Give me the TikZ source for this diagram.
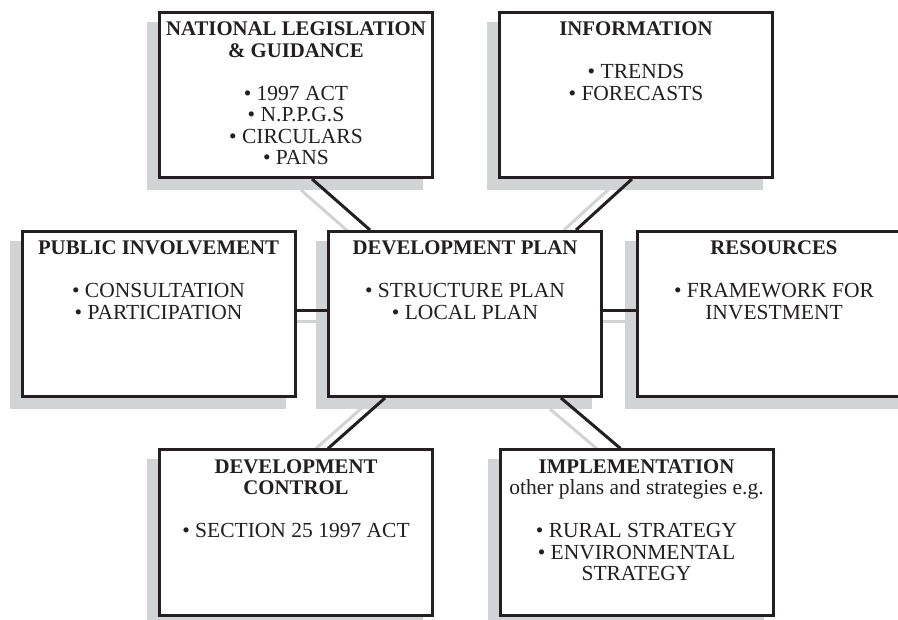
\documentclass[tikz,border=0pt]{standalone}
\usepackage{fontspec}
\setmainfont{Liberation Serif}
\usetikzlibrary{backgrounds}
\definecolor{shadegrey}{RGB}{209,211,212}
\definecolor{inkblack}{RGB}{35,31,32}
\newcommand\boxtitle[1]{{\fontsize{20.8}{21.5}\selectfont\bfseries #1}}

\begin{document}
\begin{tikzpicture}[x=1pt,y=-1pt,
    planbox/.style={draw=inkblack,line width=3pt,fill=white,minimum width=273pt,minimum height=165pt,inner sep=0pt},
    plantext/.style={text width=270pt,align=flush center,anchor=base,inner sep=0pt,text=inkblack,font=\fontsize{21.5}{21.5}\selectfont},
    link/.style={draw=inkblack,line width=3pt},
    linkshade/.style={draw=shadegrey,line width=3pt}]
    \useasboundingbox (0,0) rectangle (898,620);
    % boxes
    \node [planbox] (nlg) at (296,95) {};
    \node [planbox] (info) at (636,95) {};
    \node [planbox] (pub) at (158.5,314) {};
    \node [planbox] (dev) at (465,314) {};
    \node [planbox] (res) at (774,314) {};
    \node [planbox] (ctrl) at (296,532.5) {};
    \node [planbox] (impl) at (636.5,532.5) {};
    % texts
    \node [plantext] (nlgtxt) at ([yshift=-25pt]nlg.north) {\boxtitle{NATIONAL LEGISLATION\\ \& GUIDANCE}\\[21.5pt]
        \textbullet\ 1997 ACT\\ \textbullet\ N.P.P.G.S\\ \textbullet\ CIRCULARS\\ \textbullet\ PANS};
    \node [plantext] (infotxt) at ([yshift=-25pt]info.north) {\boxtitle{INFORMATION}\\[21.5pt]
        \textbullet\ TRENDS\\ \textbullet\ FORECASTS};
    \node [plantext] (pubtxt) at ([yshift=-25pt]pub.north) {\boxtitle{PUBLIC INVOLVEMENT}\\[21.5pt]
        \textbullet\ CONSULTATION\\ \textbullet\ PARTICIPATION};
    \node [plantext] (devtxt) at ([yshift=-25pt]dev.north) {\boxtitle{DEVELOPMENT PLAN}\\[21.5pt]
        \textbullet\ STRUCTURE PLAN\\ \textbullet\ LOCAL PLAN};
    \node [plantext] (restxt) at ([yshift=-25pt]res.north) {\boxtitle{RESOURCES}\\[21.5pt]
        \textbullet\ FRAMEWORK FOR\\ INVESTMENT};
    \node [plantext] (ctrltxt) at ([yshift=-25pt]ctrl.north) {\boxtitle{DEVELOPMENT\\ CONTROL}\\[21.5pt]
        \textbullet\ SECTION 25 1997 ACT};
    \node [plantext] (impltxt) at ([yshift=-25pt]impl.north) {\boxtitle{IMPLEMENTATION}\\ other plans and strategies e.g.\\[21.5pt]
        \textbullet\ RURAL STRATEGY\\ \textbullet\ ENVIRONMENTAL\\ STRATEGY};
    % links
    \draw [link] ([xshift=16pt]nlg.south) -- ([xshift=-95pt]dev.north);
    \draw [link] ([xshift=-4pt]info.south) -- ([xshift=111pt]dev.north);
    \draw [link] ([yshift=3pt]pub.east) -- ([yshift=3pt]dev.west);
    \draw [link] ([yshift=3pt]dev.east) -- ([yshift=3pt]res.west);
    \draw [link] ([xshift=-80pt]dev.south) -- ([xshift=32pt]ctrl.north);
    \draw [link] ([xshift=96pt]dev.south) -- ([xshift=-16pt]impl.north);
    % shadows
    \begin{pgfonlayer}{background}
        \foreach \b in {nlg,info,pub,dev,res,ctrl,impl}
            \fill [shadegrey] ([xshift=-11pt,yshift=-11pt]\b.south west) rectangle ([xshift=-11pt,yshift=-11pt]\b.north east);
        \draw [linkshade] ([xshift=5pt,yshift=-11pt]nlg.south) -- ([xshift=-106pt,yshift=-11pt]dev.north);
        \draw [linkshade] ([xshift=-16pt]info.south) -- ([xshift=99pt]dev.north);
        \draw [linkshade] ([xshift=-11pt,yshift=-8pt]pub.east) -- ([xshift=-11pt,yshift=-8pt]dev.west);
        \draw [linkshade] ([xshift=-11pt,yshift=-8pt]dev.east) -- ([xshift=-11pt,yshift=-8pt]res.west);
        \draw [linkshade] ([xshift=-92pt]dev.south) -- ([xshift=20pt]ctrl.north);
        \draw [linkshade] ([xshift=85pt,yshift=-11pt]dev.south) -- ([xshift=-27pt,yshift=-11pt]impl.north);
    \end{pgfonlayer}
\end{tikzpicture}
\end{document}
